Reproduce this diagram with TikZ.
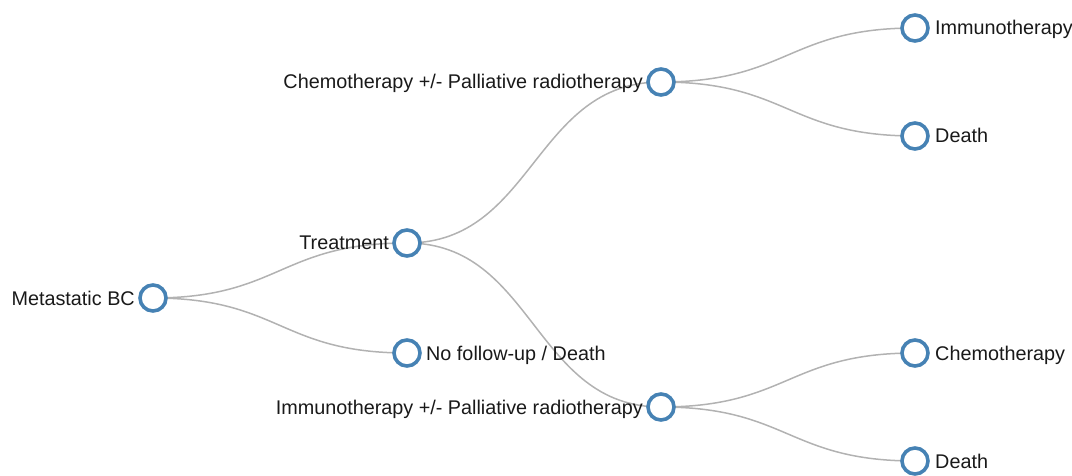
\documentclass[tikz,border=0pt]{standalone}
\usepackage{fontspec}
\setmainfont{Liberation Sans}
\usetikzlibrary{backgrounds}
\definecolor{nodeblue}{RGB}{70,130,180}
\definecolor{linkgrey}{RGB}{178,178,178}
\definecolor{textcol}{RGB}{25,25,25}
\begin{document}
\begin{tikzpicture}[x=1pt,y=-1pt,
  treenode/.style={circle,draw=nodeblue,line width=3.6pt,fill=white,minimum size=26pt,inner sep=0pt},
  leftlab/.style={anchor=base east,inner sep=0pt,text=textcol,font=\fontsize{19.8pt}{22pt}\selectfont},
  rightlab/.style={anchor=base west,inner sep=0pt,text=textcol,font=\fontsize{19.8pt}{22pt}\selectfont},
  link/.style={draw=linkgrey,line width=1.5pt}]
\useasboundingbox (0,0) rectangle (1072,476);
\node[treenode] (root) at (153,298) {};
\node[treenode] (treat) at (407,243) {};
\node[treenode] (nofu) at (407,353) {};
\node[treenode] (chemo) at (661,82) {};
\node[treenode] (immuno) at (661,407) {};
\node[treenode] (imm2) at (915,28) {};
\node[treenode] (death1) at (915,136) {};
\node[treenode] (chemo2) at (915,353) {};
\node[treenode] (death2) at (915,461) {};
\node[leftlab] (lroot) at (135,305) {Metastatic BC};
\node[leftlab] (ltreat) at (389,250) {Treatment};
\node[rightlab] (lnofu) at (426,360) {No follow-up / Death};
\node[leftlab] (lchemo) at (643,89) {Chemotherapy +/- Palliative radiotherapy};
\node[leftlab] (limmuno) at (643,414) {Immunotherapy +/- Palliative radiotherapy};
\node[rightlab] (limm2) at (935,35) {Immunotherapy};
\node[rightlab] (ldeath1) at (935,143) {Death};
\node[rightlab] (lchemo2) at (935,360) {Chemotherapy};
\node[rightlab] (ldeath2) at (935,468) {Death};
\begin{scope}[on background layer]
\foreach \a/\b in {root/treat,root/nofu,treat/chemo,treat/immuno,chemo/imm2,chemo/death1,immuno/chemo2,immuno/death2}
  \draw[link] (\a.center) .. controls +(127,0) and +(-127,0) .. (\b.center);
\end{scope}
\end{tikzpicture}
\end{document}
